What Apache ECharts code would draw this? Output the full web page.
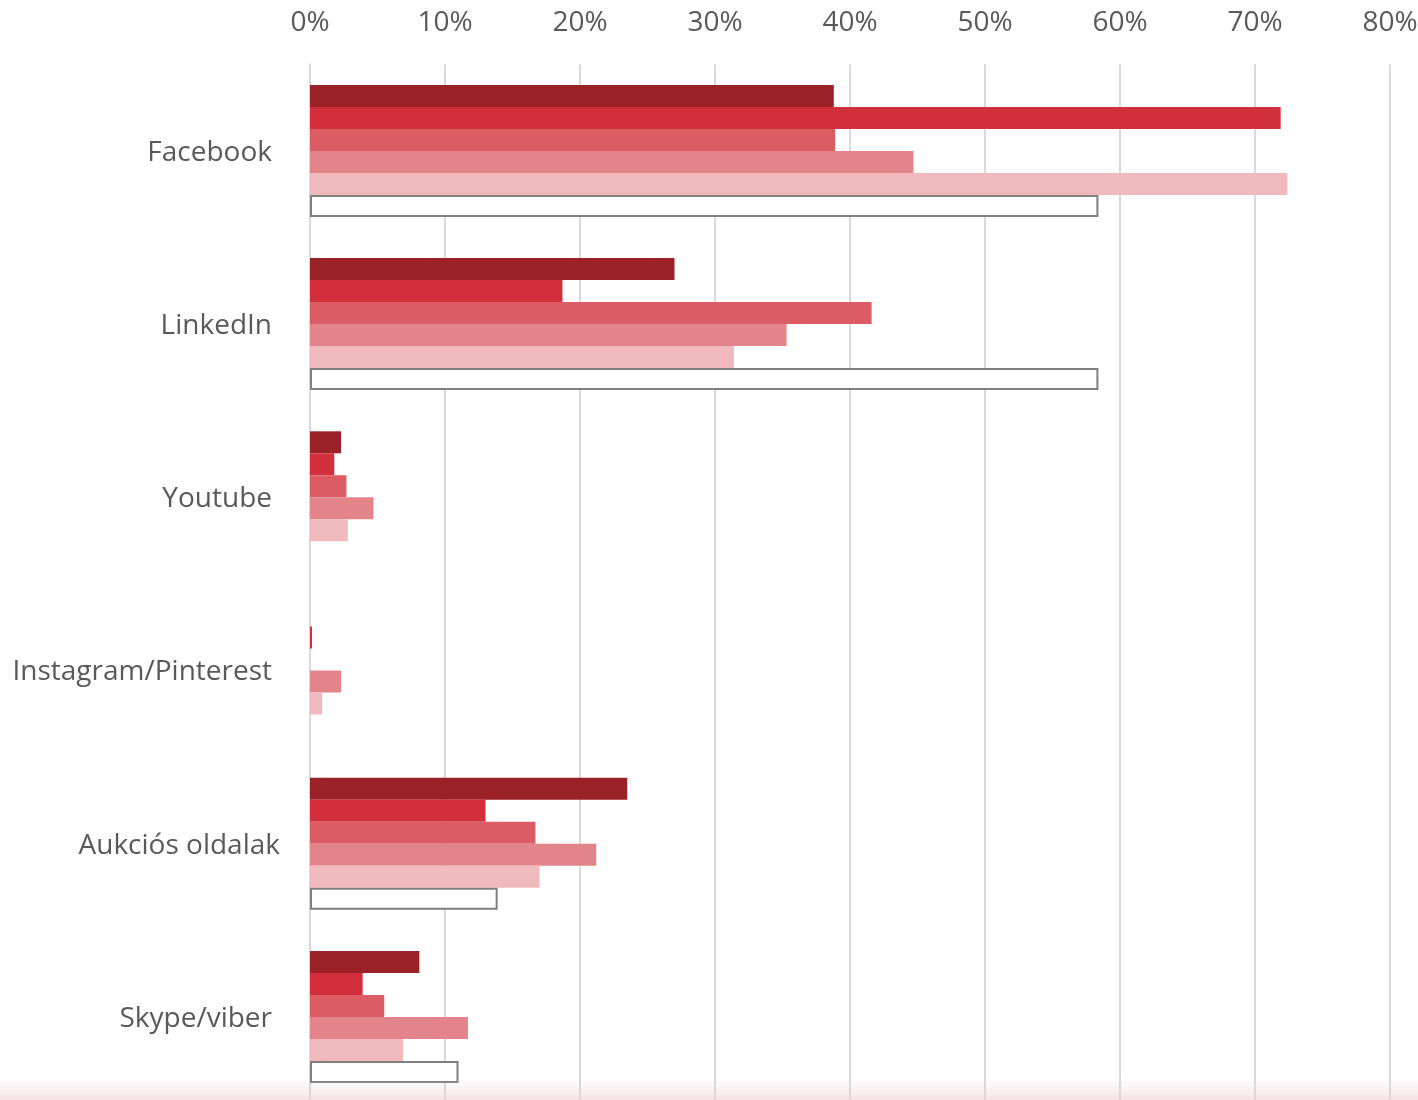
<!DOCTYPE html>
<html>
<head>
<meta charset="utf-8">
<script src="https://cdn.jsdelivr.net/npm/echarts@6/dist/echarts.min.js"></script>
<style>html,body{margin:0;padding:0;background:#fff;}#c{width:1418px;height:1100px;}</style>
</head>
<body>
<div id="c"></div>
<script>
const categories = ['Facebook', 'LinkedIn', 'Youtube', 'Instagram/Pinterest', 'Aukciós oldalak', 'Skype/viber'];
const series1 = [38.8, 27.0, 2.3, 0, 23.5, 8.1];
const series2 = [71.9, 18.7, 1.8, 0.15, 13.0, 3.9];
const series3 = [38.9, 41.6, 2.7, 0, 16.7, 5.5];
const series4 = [44.7, 35.3, 4.7, 2.3, 21.2, 11.7];
const series5 = [72.4, 31.4, 2.8, 0.9, 17.0, 6.9];
const series6 = [58.4, 58.4, null, null, 13.9, 11.0];
const xTicks = [0, 10, 20, 30, 40, 50, 60, 70, 80];

const colors = ['#9B2129', '#D12F3C', '#DB5C65', '#E3848B', '#F0B9BD', '#FFFFFF'];
const allSeries = [series1, series2, series3, series4, series5, series6];

const chart = echarts.init(document.getElementById('c'));
const font = '"Open Sans", "Noto Sans", sans-serif';
chart.setOption({
  animation: false,
  backgroundColor: '#fff',
  grid: { left: 310, right: 28, top: 64.3, height: 1039.2, containLabel: false, outerBoundsMode: 'none' },
  xAxis: {
    type: 'value', position: 'top',
    min: xTicks[0], max: xTicks[xTicks.length - 1], interval: 10,
    axisLine: { show: false }, axisTick: { show: false },
    splitLine: { show: true, lineStyle: { color: '#D9D9D9', width: 2 } },
    axisLabel: { formatter: v => v + '%', color: '#595959', fontSize: 28, fontFamily: font, margin: 27 }
  },
  yAxis: {
    type: 'category', inverse: true, data: categories,
    axisLine: { show: true, lineStyle: { color: '#D9D9D9', width: 2 } },
    axisTick: { show: false },
    axisLabel: {
      color: '#595959', fontSize: 28, fontFamily: font, margin: 30,
      formatter: v => v === 'Aukciós oldalak' ? '{w|' + v + '}' : '{n|' + v + '}',
      rich: {
        n: { color: '#595959', fontSize: 28, fontFamily: font, padding: [4, 8, 0, 0] },
        w: { color: '#595959', fontSize: 28, fontFamily: font, padding: [4, 0, 0, 0] }
      }
    }
  },
  graphic: [{
    type: 'rect', left: 0, top: 1078, z: 100, silent: true,
    shape: { width: 1418, height: 22 },
    style: {
      fill: new echarts.graphic.LinearGradient(0, 0, 0, 1, [
        { offset: 0, color: 'rgba(235,205,210,0)' },
        { offset: 1, color: 'rgba(235,205,210,0.55)' }
      ])
    }
  }],
  series: allSeries.map((d, i) => ({
    type: 'bar', data: d, barWidth: 22, barGap: '0%',
    itemStyle: i === 5
      ? { color: '#FFFFFF', borderColor: '#7F7F7F', borderWidth: 2 }
      : { color: colors[i] }
  }))
});
</script>
</body>
</html>
